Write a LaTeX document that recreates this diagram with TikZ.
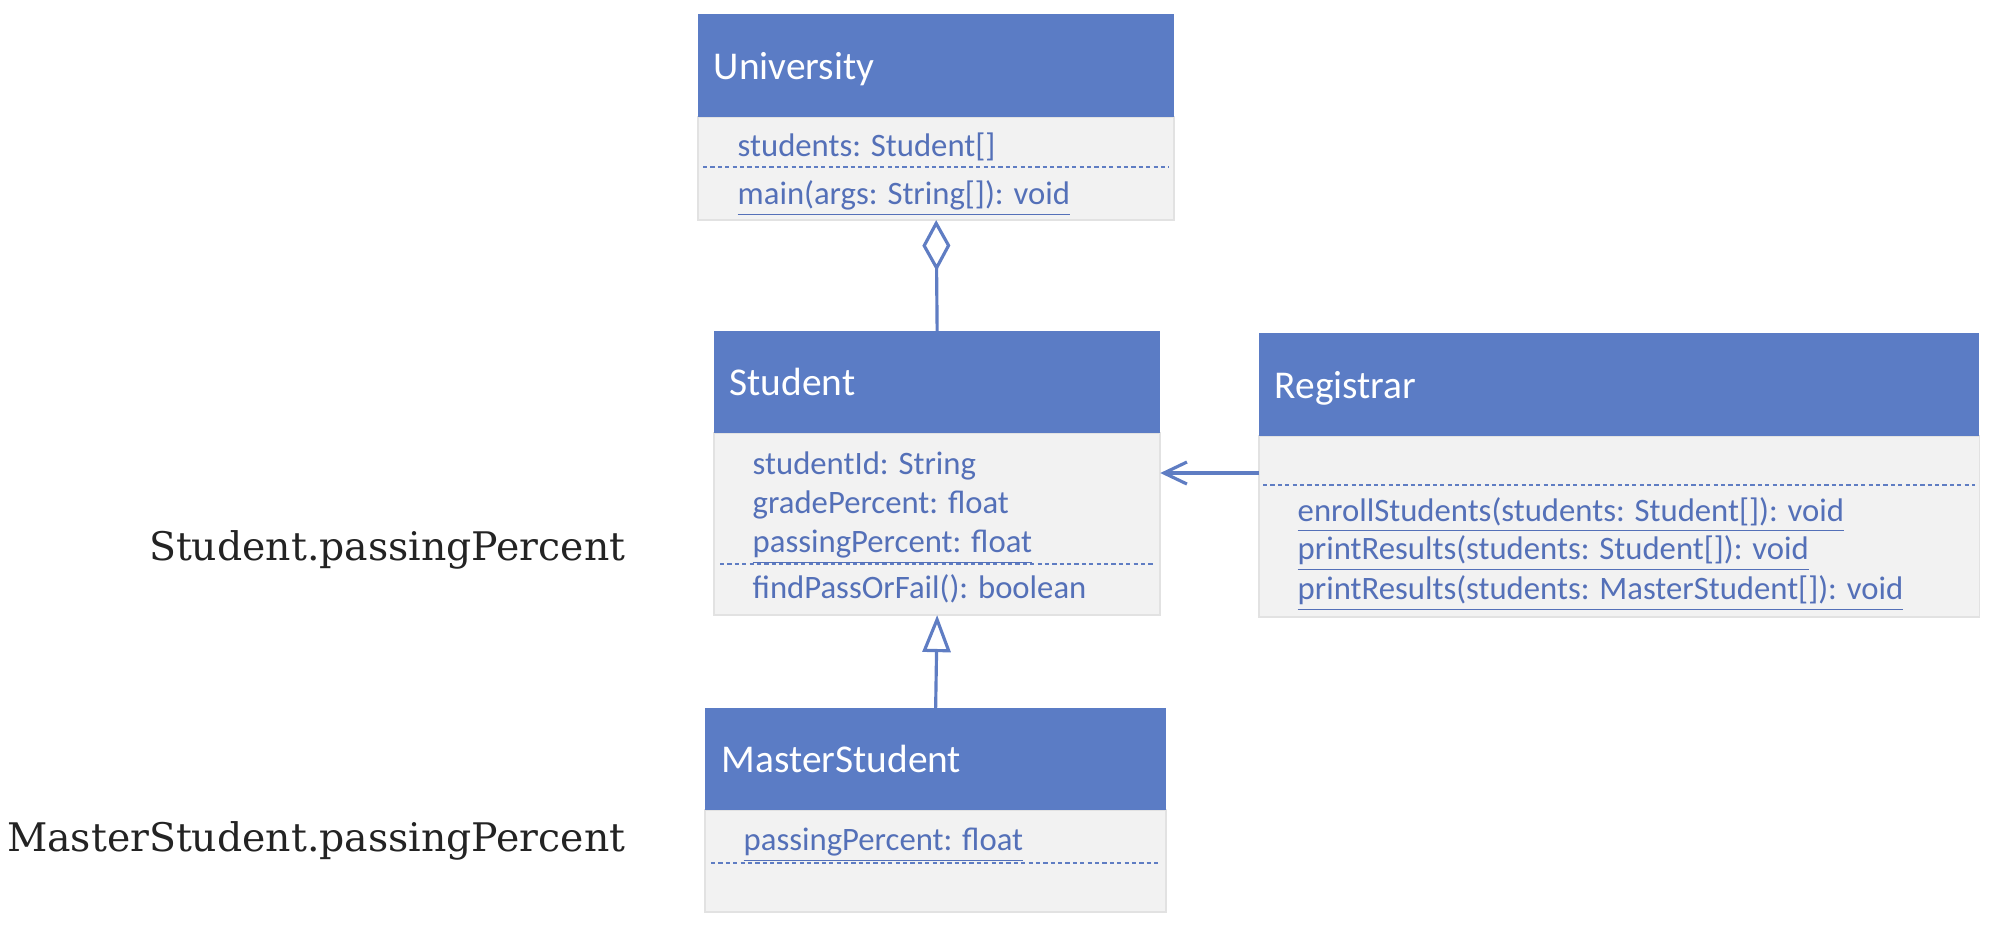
\documentclass[tikz,border=0pt]{standalone}
\usepackage{fontspec}
\setmainfont{Carlito}
\newfontfamily\slab{DejaVu Serif}
\usetikzlibrary{arrows.meta,calc}
\definecolor{hdr}{RGB}{91,124,197}
\definecolor{bodyfill}{RGB}{242,242,242}
\definecolor{bodyline}{RGB}{226,226,226}
\definecolor{txt}{RGB}{84,112,184}
\definecolor{conn}{RGB}{95,125,195}
\definecolor{side}{RGB}{35,35,35}
\tikzset{
 hdrbox/.style={rectangle, fill=hdr, draw=none, inner sep=0, outer sep=0, anchor=north west},
 bodybox/.style={rectangle, fill=bodyfill, draw=bodyline, line width=0.5pt, inner sep=0, outer sep=0, anchor=north west},
 title/.style={anchor=west, text=white, font=\fontsize{11.2}{13}\selectfont, inner sep=0, text height=0.7em, text depth=0.2em},
 member/.style={anchor=base west, text=txt, font=\fontsize{9.3}{11}\selectfont, inner sep=0},
 sep/.style={draw=conn, line width=0.7pt, dash pattern=on 1.2pt off 0.9pt},
 conn/.style={draw=conn, line width=0.9pt},
 sidelabel/.style={anchor=base east, text=side, font=\slab\fontsize{11.2}{13}\selectfont, inner sep=0},
}
\begin{document}
\begin{tikzpicture}[x=0.01cm,y=-0.01cm]
\useasboundingbox (0,0) rectangle (1998,950);
% University
\node[bodybox, minimum width=4.76cm, minimum height=1.03cm] (uniB) at (698,117) {};
\node[hdrbox, minimum width=4.76cm, minimum height=1.03cm] (uniH) at (698,14) {};
\node[title] (uniT) at ($(uniH.west)+(15,5)$) {University};
\node[member] (uniA1) at (737,156) {students: Student[]};
\draw[sep] (703,167) -- (1169,167);
\node[member] (uniM1) at (737,204) {\underline{main(args: String[]): void}};
% Student
\node[bodybox, minimum width=4.46cm, minimum height=1.82cm] (stuB) at (714,433) {};
\node[hdrbox, minimum width=4.46cm, minimum height=1.02cm] (stuH) at (714,331) {};
\node[title] (stuT) at ($(stuH.west)+(15,5)$) {Student};
\node[member] (stuA1) at (752,474) {studentId: String};
\node[member] (stuA2) at (752,513) {gradePercent: float};
\node[member] (stuA3) at (752,552) {\underline{passingPercent: float}};
\draw[sep] (720,564) -- (1154,564);
\node[member] (stuM1) at (752,598) {findPassOrFail(): boolean};
% Registrar
\node[bodybox, minimum width=7.20cm, minimum height=1.81cm] (regB) at (1259,436) {};
\node[hdrbox, minimum width=7.20cm, minimum height=1.03cm] (regH) at (1259,333) {};
\node[title] (regT) at ($(regH.west)+(15,5)$) {Registrar};
\draw[sep] (1263,485) -- (1975,485);
\node[member] (regM1) at (1297,521) {\underline{enrollStudents(students: Student[]): void}};
\node[member] (regM2) at (1297,559) {\underline{printResults(students: Student[]): void}};
\node[member] (regM3) at (1297,599) {\underline{printResults(students: MasterStudent[]): void}};
% MasterStudent
\node[bodybox, minimum width=4.61cm, minimum height=1.02cm] (msB) at (705,810) {};
\node[hdrbox, minimum width=4.61cm, minimum height=1.02cm] (msH) at (705,708) {};
\node[title] (msT) at ($(msH.west)+(16,5)$) {MasterStudent};
\node[member] (msA1) at (743,850) {\underline{passingPercent: float}};
\draw[sep] (711,863) -- (1160,863);
% connectors
\coordinate (arrY) at (0,473);
\draw[conn,-{Diamond[open,length=5.1mm,width=2.8mm]}] (stuH.north) -- (uniB.south);
\draw[conn,-{Triangle[open,length=3.7mm,width=2.8mm]}] (msH.north) -- (stuB.south);
\draw[conn,-{Straight Barb[length=2.3mm,width=2.2mm]}] (regB.west |- arrY) -- (stuB.east |- arrY);
% side labels
\node[sidelabel] (lab1) at (626,560) {Student.passingPercent};
\node[sidelabel] (lab2) at (626,851) {MasterStudent.passingPercent};
\end{tikzpicture}
\end{document}
